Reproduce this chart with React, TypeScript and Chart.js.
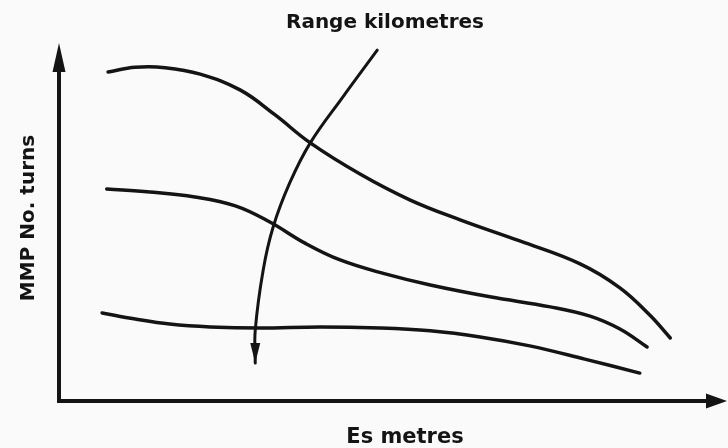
import { useEffect, useRef } from "react";
import { Chart, registerables } from "chart.js";

Chart.register(...registerables);

// Schematic curves (abstract units: x 0–100 along Es, y 0–100 along MMP No. turns)
const shortRangeX = [7.4, 11.5, 16.0, 21.3, 27.3, 32.6, 37.9, 45.4, 52.9, 60.5, 69.5, 78.6, 84.6, 89.1, 92.2];
const shortRangeY = [91.9, 93.2, 93.1, 91.3, 86.9, 79.9, 72.1, 63.4, 56.2, 50.6, 44.7, 38.3, 31.6, 24.0, 17.6];

const midRangeX = [7.2, 13.7, 20.5, 26.6, 31.8, 37.1, 42.4, 49.2, 56.0, 65.0, 74.1, 80.1, 84.6, 88.7];
const midRangeY = [59.2, 58.4, 57.0, 54.5, 50.0, 44.1, 39.4, 35.5, 32.4, 29.1, 26.3, 23.7, 20.1, 15.1];

const longRangeX = [6.5, 11.5, 16.7, 22.8, 30.3, 39.4, 48.4, 56.0, 63.5, 71.0, 79.3, 87.6];
const longRangeY = [24.6, 22.9, 21.5, 20.7, 20.4, 20.7, 20.4, 19.6, 17.9, 15.4, 11.7, 7.8];

// "Range kilometres" direction arrow
const rangeArrowX = [48.0, 42.8, 37.9, 34.8, 32.3, 30.8, 29.6, 29.6];
const rangeArrowY = [98.0, 84.9, 72.1, 60.9, 48.6, 36.6, 19.8, 10.6];

const topLabel = "Range kilometres";
const xAxisLabel = "Es metres";
const yAxisLabel = "MMP No. turns";

const INK = "#141414";
const FONT = '"DejaVu Sans", "Liberation Sans", sans-serif';

const toPoints = (xs: number[], ys: number[]) => xs.map((x, i) => ({ x, y: ys[i] }));

export default function App() {
  const canvasRef = useRef<HTMLCanvasElement | null>(null);

  useEffect(() => {
    const canvas = canvasRef.current;
    if (!canvas) return;

    const decorPlugin = {
      id: "decor",
      beforeDraw(chart: any) {
        const ctx = chart.ctx;
        ctx.save();
        ctx.fillStyle = "#fafafa";
        ctx.fillRect(0, 0, chart.width, chart.height);
        ctx.restore();
      },
      afterDatasetsDraw(chart: any) {
        const ctx = chart.ctx as CanvasRenderingContext2D;
        const { left, right, top, bottom } = chart.chartArea;
        ctx.save();
        ctx.strokeStyle = INK;
        ctx.fillStyle = INK;
        ctx.lineWidth = 4;
        ctx.lineCap = "butt";
        // y axis
        ctx.beginPath();
        ctx.moveTo(left, bottom + 2);
        ctx.lineTo(left, top + 20);
        ctx.stroke();
        ctx.beginPath();
        ctx.moveTo(left, top);
        ctx.lineTo(left + 6.5, top + 29);
        ctx.lineTo(left - 6.5, top + 29);
        ctx.closePath();
        ctx.fill();
        // x axis
        const xEnd = right + 5;
        ctx.beginPath();
        ctx.moveTo(left - 2, bottom);
        ctx.lineTo(xEnd - 16, bottom);
        ctx.stroke();
        ctx.beginPath();
        ctx.moveTo(xEnd, bottom);
        ctx.lineTo(xEnd - 21, bottom - 7.5);
        ctx.lineTo(xEnd - 21, bottom + 7.5);
        ctx.closePath();
        ctx.fill();

        // arrowhead on range arrow
        const meta = chart.getDatasetMeta(3);
        const pts = meta.data;
        if (pts.length >= 2) {
          const tip = pts[pts.length - 1];
          const prev = pts[pts.length - 2];
          const ang = Math.atan2(tip.y - prev.y, tip.x - prev.x);
          const len = 20;
          const hw = 5;
          ctx.save();
          ctx.translate(tip.x, tip.y);
          ctx.rotate(ang);
          ctx.beginPath();
          ctx.moveTo(0, 0);
          ctx.lineTo(-len, hw);
          ctx.lineTo(-len, -hw);
          ctx.closePath();
          ctx.fill();
          ctx.restore();
        }

        // texts
        ctx.textAlign = "center";
        ctx.textBaseline = "alphabetic";
        ctx.font = `bold 20px ${FONT}`;
        ctx.fillText(topLabel, 385, 28);
        ctx.font = `bold 21px ${FONT}`;
        ctx.fillText(xAxisLabel, 405, 443);
        ctx.save();
        ctx.translate(34, 218);
        ctx.rotate(-Math.PI / 2);
        ctx.font = `bold 20px ${FONT}`;
        ctx.fillText(yAxisLabel, 0, 0);
        ctx.restore();
        ctx.restore();
      },
    };

    const lineStyle = {
      borderColor: INK,
      borderWidth: 3.5,
      pointRadius: 0,
      fill: false,
      tension: 0.4,
      borderCapStyle: "round" as const,
      borderJoinStyle: "round" as const,
    };

    const chart = new Chart(canvas, {
      type: "line",
      data: {
        datasets: [
          { ...lineStyle, label: "short", data: toPoints(shortRangeX, shortRangeY) },
          { ...lineStyle, label: "mid", data: toPoints(midRangeX, midRangeY) },
          { ...lineStyle, label: "long", data: toPoints(longRangeX, longRangeY) },
          { ...lineStyle, label: "arrow", data: toPoints(rangeArrowX, rangeArrowY), borderWidth: 3 },
        ],
      },
      options: {
        animation: false,
        responsive: false,
        layout: { padding: { left: 59, right: 6, top: 43, bottom: 47 } },
        plugins: { legend: { display: false }, tooltip: { enabled: false }, title: { display: false } },
        scales: {
          x: { type: "linear", min: 0, max: 100, display: false },
          y: { type: "linear", min: 0, max: 100, display: false },
        },
        events: [],
      },
      plugins: [decorPlugin],
    });

    return () => chart.destroy();
  }, []);

  return (
    <canvas
      ref={canvasRef}
      width={728}
      height={448}
      style={{ position: "fixed", left: 0, top: 0, width: 728, height: 448, display: "block" }}
    />
  );
}
